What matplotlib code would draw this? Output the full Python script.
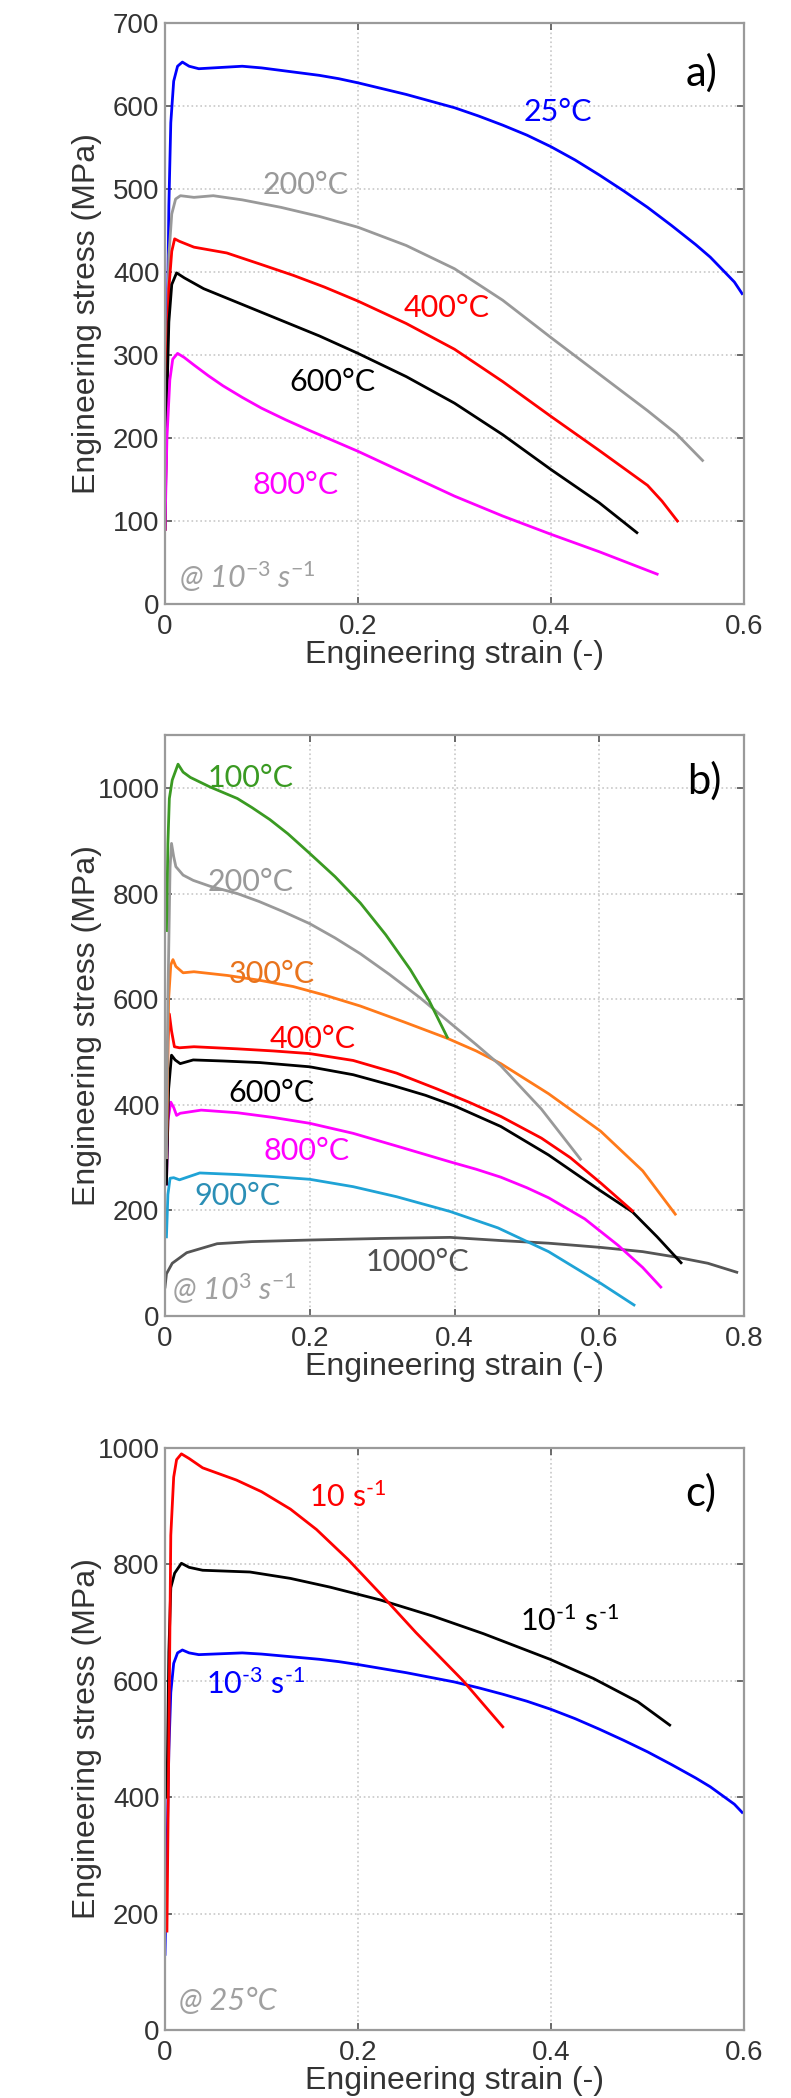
import matplotlib.pyplot as plt

plt.rcParams['font.family'] = ['Liberation Sans', 'DejaVu Sans']
plt.rcParams['mathtext.fontset'] = 'custom'
plt.rcParams['mathtext.rm'] = 'Lato'
plt.rcParams['mathtext.it'] = 'Lato:italic'

# ---- panel a) : temperature series @ 1e-3 1/s ----
strain_a25 = [0.0, 0.002, 0.004, 0.006, 0.009, 0.013, 0.018, 0.025, 0.035, 0.05, 0.08, 0.1,
              0.12, 0.14, 0.16, 0.18, 0.2, 0.225, 0.25, 0.275, 0.3, 0.325, 0.35, 0.375,
              0.4, 0.425, 0.45, 0.475, 0.5, 0.525, 0.55, 0.565, 0.58, 0.59, 0.598]
stress_a25 = [130, 300, 480, 580, 630, 648, 653, 648, 645, 646, 648, 646,
              643, 640, 637, 633, 628, 621, 614, 606, 598, 588, 577, 565,
              551, 535, 517, 498, 478, 456, 433, 418, 400, 388, 374]
strain_a200 = [0.0, 0.002, 0.004, 0.007, 0.011, 0.016, 0.03, 0.05, 0.08, 0.12, 0.16, 0.2,
               0.25, 0.3, 0.35, 0.4, 0.45, 0.5, 0.53, 0.557]
stress_a200 = [90, 300, 420, 470, 488, 492, 490, 492, 487, 478, 467, 454,
               432, 404, 366, 321, 277, 233, 205, 173]
strain_a400 = [0.0, 0.002, 0.004, 0.007, 0.01, 0.015, 0.03, 0.064, 0.1, 0.133, 0.165, 0.2,
               0.25, 0.3, 0.35, 0.4, 0.45, 0.5, 0.515, 0.531]
stress_a400 = [90, 280, 380, 425, 440, 437, 430, 423, 409, 396, 382, 365,
               338, 307, 268, 226, 185, 143, 124, 100]
strain_a600 = [0.0, 0.002, 0.004, 0.007, 0.012, 0.02, 0.04, 0.08, 0.12, 0.16, 0.2, 0.25,
               0.3, 0.35, 0.4, 0.45, 0.489]
stress_a600 = [90, 250, 340, 385, 399, 393, 380, 361, 342, 323, 302, 274,
               242, 204, 162, 122, 86]
strain_a800 = [0.0, 0.002, 0.005, 0.008, 0.013, 0.02, 0.03, 0.045, 0.06, 0.08, 0.1, 0.125,
               0.15, 0.2, 0.25, 0.3, 0.35, 0.4, 0.45, 0.51]
stress_a800 = [90, 200, 270, 295, 302, 297, 288, 275, 263, 249, 236, 222,
               209, 184, 157, 130, 106, 84, 63, 36]

# ---- panel b) : temperature series @ 1e3 1/s ----
strain_b100 = [0.002, 0.004, 0.006, 0.01, 0.014, 0.018, 0.025, 0.035, 0.062, 0.1, 0.12,
               0.145, 0.17, 0.2, 0.235, 0.27, 0.305, 0.339, 0.365, 0.39]
stress_b100 = [730, 895, 980, 1015, 1030, 1045, 1030, 1020, 1002, 980, 963,
               940, 913, 876, 832, 782, 722, 656, 597, 528]
strain_b200 = [0.002, 0.004, 0.007, 0.009, 0.012, 0.015, 0.025, 0.039, 0.062, 0.1, 0.13,
               0.163, 0.2, 0.235, 0.27, 0.31, 0.353, 0.394, 0.43, 0.464, 0.52, 0.574]
stress_b200 = [300, 600, 850, 895, 870, 851, 835, 825, 814, 800, 785,
               766, 743, 716, 686, 647, 602, 555, 514, 474, 392, 297]
strain_b300 = [0.002, 0.005, 0.008, 0.011, 0.015, 0.025, 0.04, 0.086, 0.13, 0.177, 0.22,
               0.27, 0.33, 0.39, 0.43, 0.464, 0.53, 0.602, 0.66, 0.705]
stress_b300 = [300, 600, 665, 675, 662, 650, 652, 645, 636, 624, 608,
               587, 557, 526, 502, 478, 421, 350, 275, 193]
strain_b400 = [0.002, 0.004, 0.006, 0.009, 0.013, 0.02, 0.04, 0.07, 0.1, 0.15, 0.2, 0.26,
               0.32, 0.376, 0.42, 0.464, 0.52, 0.56, 0.602, 0.646]
stress_b400 = [300, 520, 572, 540, 510, 508, 510, 508, 506, 502, 497, 484,
               460, 430, 405, 378, 337, 300, 252, 199]
strain_b600 = [0.002, 0.005, 0.009, 0.014, 0.021, 0.039, 0.08, 0.131, 0.2, 0.26, 0.316,
               0.36, 0.4, 0.464, 0.53, 0.602, 0.646, 0.68, 0.713]
stress_b600 = [250, 430, 494, 485, 478, 485, 483, 480, 472, 457, 436,
               418, 398, 359, 305, 237, 197, 150, 101]
strain_b800 = [0.002, 0.004, 0.008, 0.012, 0.016, 0.021, 0.05, 0.1, 0.15, 0.2, 0.26, 0.32,
               0.394, 0.43, 0.464, 0.5, 0.53, 0.58, 0.626, 0.66, 0.685]
stress_b800 = [250, 370, 405, 395, 380, 384, 390, 385, 376, 365, 346, 322,
               292, 278, 263, 243, 224, 184, 134, 92, 55]
strain_b900 = [0.002, 0.004, 0.007, 0.012, 0.02, 0.048, 0.1, 0.15, 0.2, 0.26, 0.32, 0.394,
               0.46, 0.53, 0.602, 0.648]
stress_b900 = [150, 230, 261, 262, 258, 271, 268, 264, 259, 245, 226, 198,
               167, 122, 62, 21]
strain_b1000 = [0.0, 0.002, 0.01, 0.03, 0.072, 0.12, 0.2, 0.3, 0.394, 0.464, 0.53, 0.602,
                0.66, 0.709, 0.75, 0.79]
stress_b1000 = [55, 80, 100, 120, 137, 141, 144, 147, 149, 143, 138, 130,
                122, 111, 100, 83]

# ---- panel c) : strain-rate series @ 25 C ----
strain_c10 = [0.002, 0.004, 0.006, 0.009, 0.012, 0.017, 0.025, 0.039, 0.074, 0.1, 0.13,
              0.157, 0.19, 0.223, 0.26, 0.309, 0.35]
stress_c10 = [170, 500, 850, 950, 980, 990, 982, 966, 945, 925, 895,
              860, 808, 750, 683, 600, 521]
strain_c01 = [0.002, 0.004, 0.006, 0.01, 0.017, 0.025, 0.039, 0.088, 0.13, 0.171, 0.223,
              0.278, 0.33, 0.399, 0.444, 0.49, 0.523]
stress_c01 = [400, 650, 760, 785, 802, 795, 790, 787, 776, 761, 739,
              711, 681, 637, 604, 564, 524]

TICK_C = '#333333'
LBL_FONT = ['Lato', 'DejaVu Sans']


def style_axes(ax, xmax, ymax, xticks, yticks):
    ax.set_xlim(0, xmax)
    ax.set_ylim(0, ymax)
    ax.set_xticks(xticks)
    ax.set_yticks(yticks)
    ax.set_xticklabels([f'{t:g}' for t in xticks])
    ax.set_yticklabels([f'{t:g}' for t in yticks])
    ax.grid(True, linestyle=':', color='#c8c8c8', linewidth=1.2)
    ax.tick_params(direction='in', top=True, right=True, length=5, width=1.2,
                   color='#555555', labelsize=20, labelcolor=TICK_C)
    ax.tick_params(axis='x', pad=7)
    ax.tick_params(axis='y', pad=4)
    for s in ax.spines.values():
        s.set_color('#9a9a9a')
        s.set_linewidth(1.6)
    ax.set_xlabel('Engineering strain (-)', fontsize=23, color=TICK_C)
    ax.set_ylabel('Engineering stress (MPa)', fontsize=23, color=TICK_C)
    ax.xaxis.set_label_coords(0.5, -0.062)
    ax.yaxis.set_label_coords(-0.108, 0.5)


def note(ax, x, y, s, color, size=22, ha='center', style='normal'):
    ax.text(x, y, s, color=color, fontsize=size, ha=ha, va='center',
            family=LBL_FONT, style=style)


fig = plt.figure(figsize=(7.91, 20.98), dpi=100)
L, W, H = 0.2086, 0.732, 0.2769

# a)
ax = fig.add_axes([L, 0.7121, W, H])
ax.plot(strain_a25, stress_a25, color='#0000ff', lw=2)
ax.plot(strain_a200, stress_a200, color='#999999', lw=2)
ax.plot(strain_a400, stress_a400, color='#ff0000', lw=2)
ax.plot(strain_a600, stress_a600, color='#000000', lw=2)
ax.plot(strain_a800, stress_a800, color='#ff00ff', lw=2)
style_axes(ax, 0.6, 700, [0, 0.2, 0.4, 0.6], list(range(0, 701, 100)))
note(ax, 0.407, 593, '25°C', '#0000ff')
note(ax, 0.146, 505, '200°C', '#999999')
note(ax, 0.292, 357, '400°C', '#ff0000')
note(ax, 0.174, 267, '600°C', '#000000')
note(ax, 0.135, 143, '800°C', '#ff00ff')
note(ax, 0.556, 640, 'a)', '#000000', size=30)
note(ax, 0.014, 33, r'@ 10$^{\mathit{-3}}$ s$^{\mathit{-1}}$', '#a0a0a0', ha='left', style='italic')

# b)
ax = fig.add_axes([L, 0.3727, W, H])
ax.plot(strain_b1000, stress_b1000, color='#555555', lw=2)
ax.plot(strain_b900, stress_b900, color='#1fa3d6', lw=2)
ax.plot(strain_b800, stress_b800, color='#ff00ff', lw=2)
ax.plot(strain_b600, stress_b600, color='#000000', lw=2)
ax.plot(strain_b400, stress_b400, color='#ff0000', lw=2)
ax.plot(strain_b300, stress_b300, color='#ff7a1a', lw=2)
ax.plot(strain_b200, stress_b200, color='#999999', lw=2)
ax.plot(strain_b100, stress_b100, color='#3a9a22', lw=2)
style_axes(ax, 0.8, 1100, [0, 0.2, 0.4, 0.6, 0.8], list(range(0, 1001, 200)))
note(ax, 0.118, 1018, '100°C', '#3a9a22')
note(ax, 0.118, 821, '200°C', '#999999')
note(ax, 0.147, 647, '300°C', '#e8731c')
note(ax, 0.204, 525, '400°C', '#ff0000')
note(ax, 0.147, 422, '600°C', '#000000')
note(ax, 0.196, 312, '800°C', '#ff00ff')
note(ax, 0.100, 227, '900°C', '#2b8fb6')
note(ax, 0.349, 103, '1000°C', '#505050')
note(ax, 0.745, 1013, 'b)', '#000000', size=30)
note(ax, 0.009, 52, r'@ 10$^{\mathit{3}}$ s$^{\mathit{-1}}$', '#a0a0a0', ha='left', style='italic')

# c)
ax = fig.add_axes([L, 0.0324, W, 0.2774])
ax.plot(strain_a25, stress_a25, color='#0000ff', lw=2)
ax.plot(strain_c01, stress_c01, color='#000000', lw=2)
ax.plot(strain_c10, stress_c10, color='#ff0000', lw=2)
style_axes(ax, 0.6, 1000, [0, 0.2, 0.4, 0.6], list(range(0, 1001, 200)))
note(ax, 0.149, 917, r'10 s$^{\text{-1}}$', '#ff0000', ha='left')
note(ax, 0.368, 703, r'10$^{\text{-1}}$ s$^{\text{-1}}$', '#000000', ha='left')
note(ax, 0.043, 595, r'10$^{\text{-3}}$ s$^{\text{-1}}$', '#0000ff', ha='left')
note(ax, 0.555, 922, 'c)', '#000000', size=30)
note(ax, 0.015, 50, '@ 25°C', '#a0a0a0', ha='left', style='italic')

fig.savefig('out.png', dpi=100)
